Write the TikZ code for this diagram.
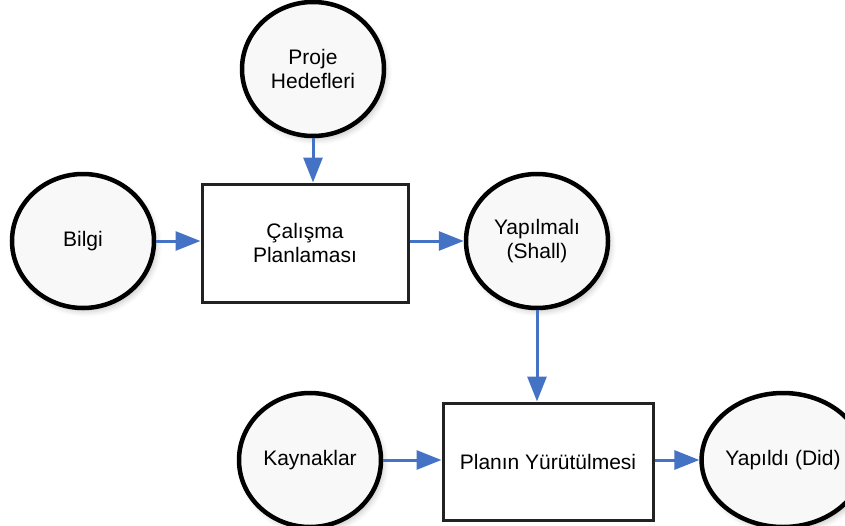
\documentclass[tikz,border=0pt]{standalone}
\usepackage{fontspec}
\setmainfont{Liberation Sans}
\usetikzlibrary{arrows.meta,shapes.geometric,shadows.blur}
\definecolor{flowblue}{HTML}{4472C4}
\definecolor{discfill}{HTML}{F8F8F8}
\definecolor{boxline}{HTML}{222222}
\begin{document}
\begin{tikzpicture}[x=1pt,y=-1pt,
  disc/.style={ellipse,draw=black,line width=4.5pt,fill=discfill,
    minimum width=142pt,minimum height=134pt,inner sep=0pt,align=center,
    font=\fontsize{21}{23.5}\selectfont,
    blur shadow={shadow xshift=3pt,shadow yshift=-4pt,shadow opacity=20,shadow blur radius=5pt}},
  task/.style={rectangle,draw=boxline,line width=3pt,fill=white,inner sep=0pt,
    align=center,font=\fontsize{21}{23.5}\selectfont},
  flow/.style={draw=flowblue,line width=3pt,
    -{Triangle[length=25pt,width=19pt]}}]
\useasboundingbox (0,0) rectangle (845,525);

\node[disc] (goals) at (313,69) {Proje\\Hedefleri};
\node[disc] (info) at (83,241) {Bilgi};
\node[disc] (shall) at (537,241) {Yapılmalı\\(Shall)};
\node[disc] (res) at (310,460) {Kaynaklar};
\node[disc] (did) at (783,460) {Yapıldı (Did)};

\node[task,minimum width=206pt,minimum height=118pt] (plan) at (305,243) {Çalışma\\Planlaması};
\node[task,minimum width=210pt,minimum height=117pt] (exec) at (548,461.5) {Planın Yürütülmesi};

\draw[flow] (goals.south) -- (goals.south |- plan.north);
\draw[flow] (info.east) -- (info.east -| plan.west);
\draw[flow] (shall.west -| plan.east) -- (shall.west);
\draw[flow] (shall.south) -- (shall.south |- exec.north);
\draw[flow] (res.east) -- (res.east -| exec.west);
\draw[flow] (did.west -| exec.east) -- (did.west);
\end{tikzpicture}
\end{document}
